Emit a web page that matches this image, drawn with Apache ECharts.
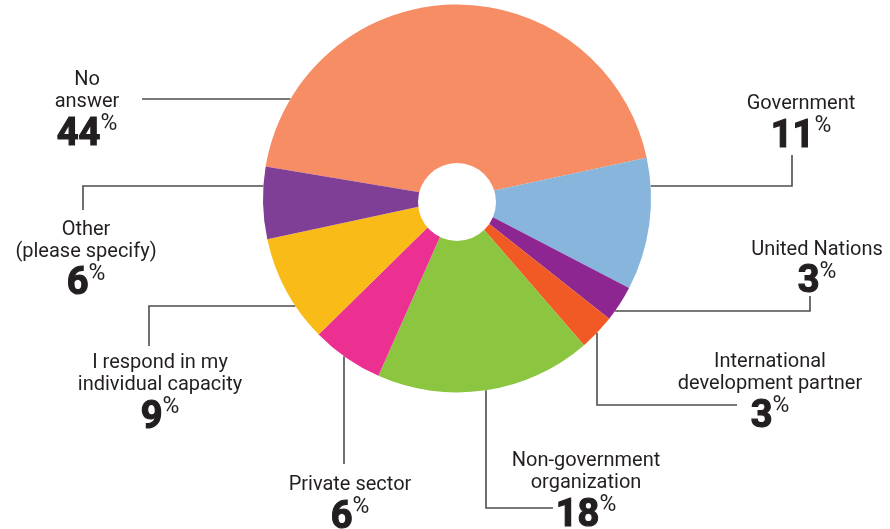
<!DOCTYPE html>
<html>
<head>
<meta charset="utf-8">
<script src="https://cdn.jsdelivr.net/npm/echarts@6/dist/echarts.min.js"></script>
<style>
  html, body { margin: 0; padding: 0; background: #ffffff; }
  #chart { width: 890px; height: 529px; }
</style>
</head>
<body>
<div id="chart"></div>
<script>
// Survey respondents by type of organization (share of responses, %)
const categories = [
  'No\nanswer',
  'Government',
  'United Nations',
  'International\ndevelopment partner',
  'Non-government\norganization',
  'Private sector',
  'I respond in my\nindividual capacity',
  'Other\n(please specify)'
];
const shares = [44, 11, 3, 3, 18, 6, 9, 6];
const sliceColors = ['#F68D65', '#87B5DC', '#8D2690', '#F15A24', '#8CC540', '#EC3092', '#F8BB17', '#7F3F97'];

// Pie geometry
const CX = 457, CY = 198.5, R = 194;

// Label block anchors: [centre x, top y]
const labelAnchors = [
  [87, 69], [801, 93], [817, 238.5], [770, 351],
  [586, 450], [350, 474], [160, 352], [86, 218.5]
];
// Leader lines: leave the rim horizontally (left/right, at a given y)
// or vertically (bottom, at a given x), then follow the listed elbows.
const leaderPaths = [
  { side: 'left',   at: 99,  via: [[142, 99]] },
  { side: 'right',  at: 186, via: [[792, 186], [792, 155]] },
  { side: 'right',  at: 311, via: [[810, 311], [810, 296]] },
  { side: 'bottom', at: 597, via: [[597, 405], [737, 405]] },
  { side: 'bottom', at: 486, via: [[486, 508], [553, 508]] },
  { side: 'bottom', at: 344, via: [[344, 464]] },
  { side: 'left',   at: 306, via: [[149, 306], [149, 346]] },
  { side: 'left',   at: 186, via: [[83, 186], [83, 210]] }
];

function rimPoint(path) {
  if (path.side === 'bottom') {
    const dx = path.at - CX;
    return [path.at, CY + Math.sqrt(R * R - dx * dx)];
  }
  const dy = path.at - CY;
  const off = Math.sqrt(R * R - dy * dy);
  return [path.side === 'left' ? CX - off : CX + off, path.at];
}

const chart = echarts.init(document.getElementById('chart'), null, { renderer: 'canvas' });

const textColor = '#231F20';
const option = {
  animation: false,
  backgroundColor: '#ffffff',
  series: [
    {
      type: 'pie',
      center: [CX, CY],
      radius: [0, R],
      startAngle: 170.5,
      clockwise: true,
      avoidLabelOverlap: false,
      silent: true,
      itemStyle: { borderWidth: 0 },
      data: categories.map((name, i) => ({
        name: name,
        value: shares[i],
        itemStyle: { color: sliceColors[i] }
      })),
      label: {
        show: true,
        position: 'outside',
        formatter: p => p.name.split('\n').map(s => '{name|' + s + '}').join('\n') +
          '\n{num|' + p.value + '}{pct|%}',
        rich: {
          name: { fontFamily: 'Roboto', fontSize: 20, lineHeight: 22, color: textColor, align: 'center' },
          num: {
            fontFamily: 'Roboto', fontSize: 38, fontWeight: 'bold', lineHeight: 44, color: textColor,
            textBorderColor: textColor, textBorderWidth: 1.2
          },
          pct: { fontFamily: 'Roboto', fontSize: 23, lineHeight: 42, color: textColor, verticalAlign: 'top' }
        }
      },
      labelLine: {
        show: true,
        smooth: false,
        length: 10,
        length2: 10,
        lineStyle: { color: '#4D4D4D', width: 1.6 }
      },
      labelLayout: function (params) {
        const i = params.dataIndex;
        const path = leaderPaths[i];
        const pts = [rimPoint(path)].concat(path.via);
        while (pts.length < 3) pts.push(pts[pts.length - 1].slice());
        return {
          x: labelAnchors[i][0],
          y: labelAnchors[i][1],
          align: 'center',
          verticalAlign: 'top',
          labelLinePoints: pts
        };
      }
    },
    {
      // white hub in the middle of the pie
      type: 'pie',
      center: [457, 202],
      radius: [0, 39],
      silent: true,
      label: { show: false },
      labelLine: { show: false },
      itemStyle: { color: '#ffffff', borderWidth: 0 },
      data: [{ value: 1, name: 'hub' }]
    }
  ]
};
chart.setOption(option);
</script>
</body>
</html>
